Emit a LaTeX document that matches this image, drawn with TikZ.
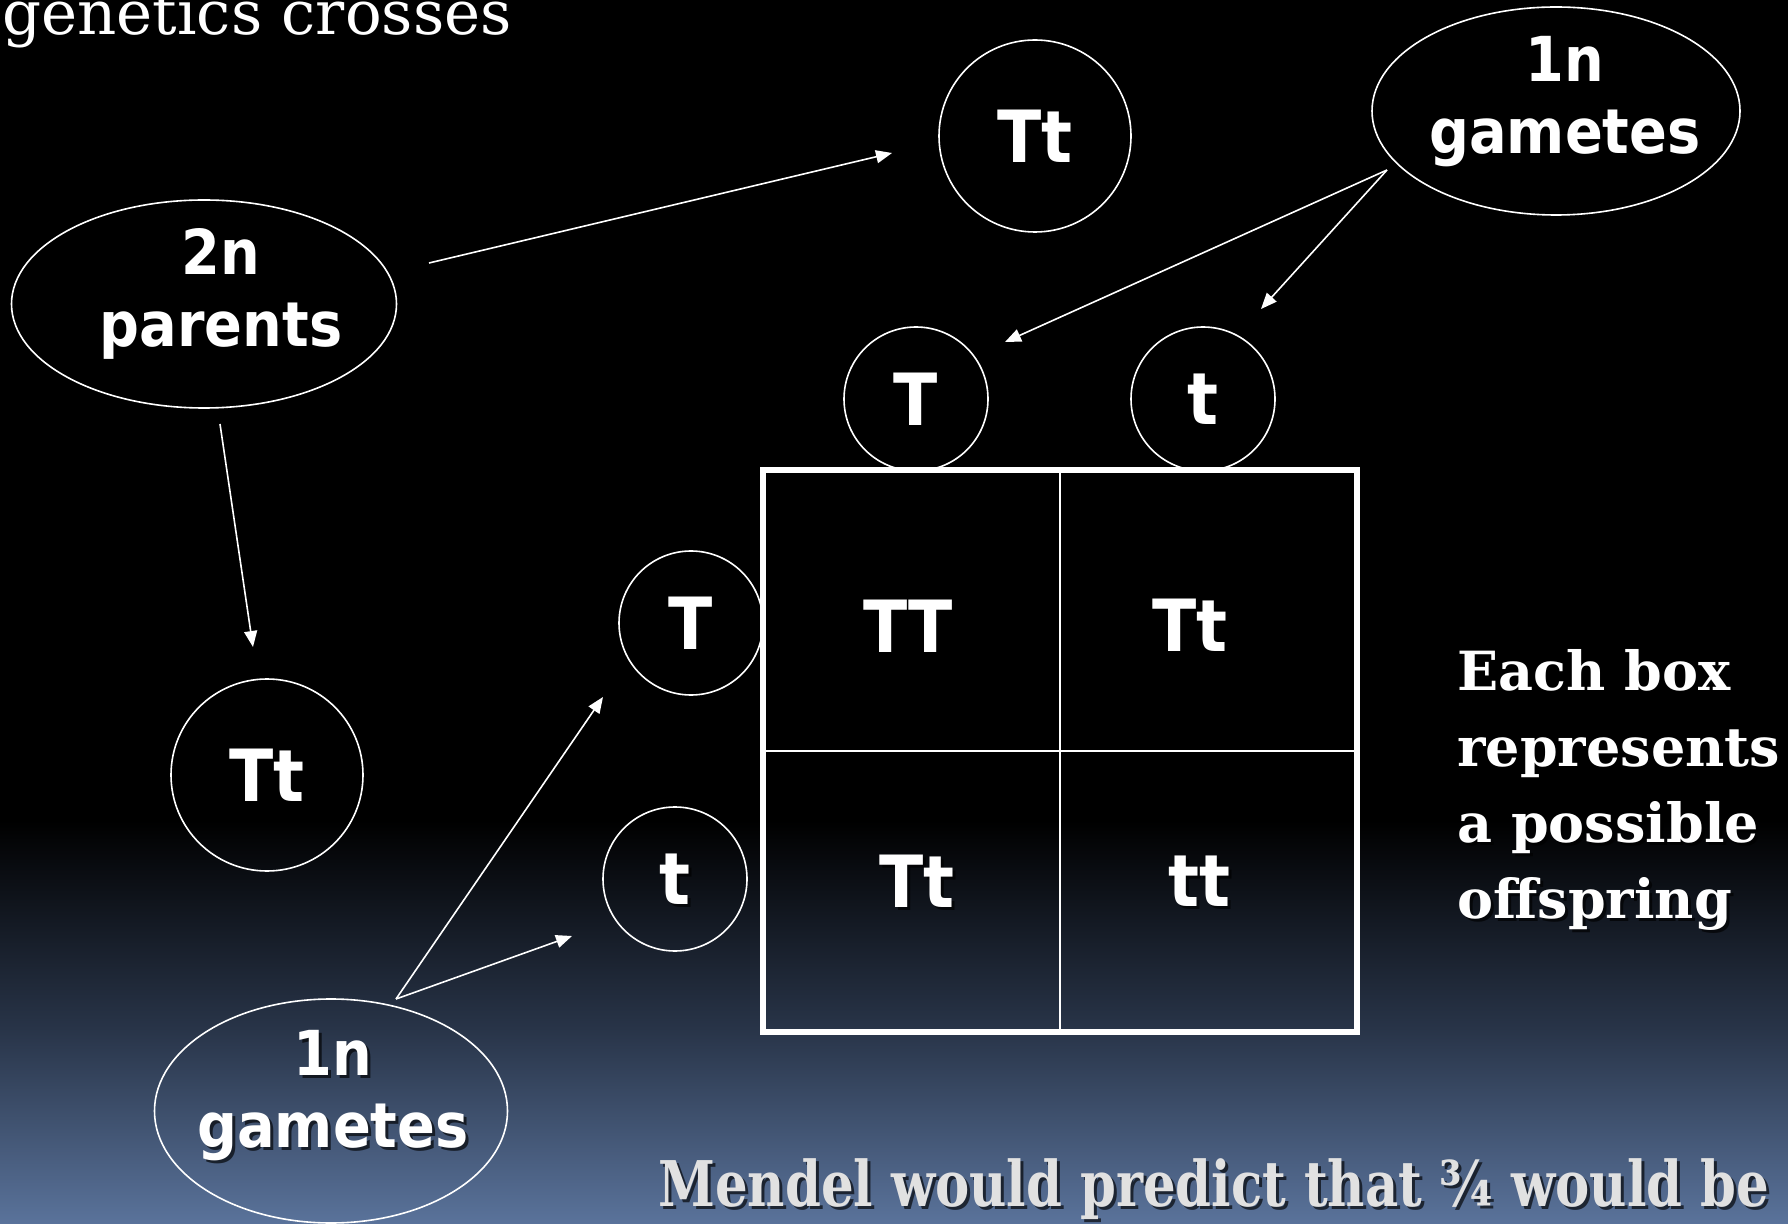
\documentclass[tikz,border=0pt]{standalone}
\usepackage{fontspec}
\usetikzlibrary{shapes.geometric,arrows.meta}
\newfontfamily\nodefont[FakeStretch=0.9]{DejaVu Sans}
\newfontfamily\seriffont{DejaVu Serif}
\newfontfamily\condserif[FakeStretch=0.815]{DejaVu Serif}
\definecolor{bgbot}{RGB}{90,115,155}
\definecolor{bgmid}{RGB}{40,52,72}
\definecolor{mendelgray}{RGB}{225,225,225}
\pgfdeclareverticalshading{slidebg}{100bp}{color(0bp)=(bgbot); color(25bp)=(bgbot); color(33bp)=(bgmid); color(41.5bp)=(black); color(100bp)=(black)}
\tikzset{
  circ/.style={circle, draw=white, line width=0.8pt, inner sep=0pt, text=white,
    font={\nodefont\bfseries\fontsize{36}{43}\selectfont}},
  bigcirc/.style={circ, minimum size=96pt},
  smallcirc/.style={circ, minimum size=72pt},
  ovalshape/.style={ellipse, draw=white, line width=0.8pt, inner sep=0pt},
  ovaltext/.style={text=white, inner sep=0pt, align=center,
    font={\nodefont\bfseries\fontsize{31}{36}\selectfont}},
  celltext/.style={text=white, inner sep=0pt,
    font={\nodefont\bfseries\fontsize{36}{43}\selectfont}},
  arrowline/.style={draw=white, line width=0.8pt, -{Triangle[length=8pt,width=6.5pt]}},
  shadowcopy/.style={text=black, draw=none, opacity=0.65},
}
\newcommand\shadowed[4]{%
  \node[#1, shadowcopy] at ([shift={(1.5pt,-1.5pt)}]#3) {#4};
  \node[#1] (#2) at (#3) {#4};
}
\begin{document}
\begin{tikzpicture}[x=0.5pt,y=-0.5pt]
\useasboundingbox (0,0) rectangle (1788,1224);
\clip (0,0) rectangle (1788,1224);
\shade[shading=slidebg] (0,0) rectangle (1788,1224);

% title fragment
\node[anchor=base west, inner sep=0pt, text=white, font={\seriffont\fontsize{30.5}{36}\selectfont}] (title) at (2,35) {genetics crosses};

% ellipses
\node[ovalshape, minimum width=192.5pt, minimum height=104pt] (parents) at (204,304) {};
\node[ovaltext, anchor=base] (parentstxt) at (221,347) {2n\\parents};

\node[ovalshape, minimum width=184pt, minimum height=104pt] (gamtop) at (1556,111) {};
\node[ovaltext, anchor=base] (gamtoptxt) at (1565,154) {1n\\gametes};

\node[ovalshape, minimum width=176.5pt, minimum height=112pt] (gambot) at (331,1111) {};
\shadowed{ovaltext, anchor=base}{gambottxt}{333,1147}{1n\\gametes}

% circles
\node[bigcirc] (tttop) at (1035,136) {Tt};
\shadowed{bigcirc}{ttleft}{267,775}{Tt}
\node[smallcirc] (Ttop) at (916,399) {T};
\node[smallcirc] (ttop) at (1203,399) {t};
\node[smallcirc] (Tleft) at (691,623) {T};
\shadowed{smallcirc}{tleft}{675,879}{t}

% Punnett square
\draw[white, line width=0.9pt] (1060,470) -- (1060,1032);
\draw[white, line width=0.9pt] (763,751) -- (1357,751);
\draw[white, line width=2.6pt] (763,470) rectangle (1357,1032);
\node[celltext] (c11) at (908,626) {TT};
\node[celltext] (c12) at (1190,625) {Tt};
\shadowed{celltext}{c21}{917,881}{Tt}
\shadowed{celltext}{c22}{1199,881}{tt}

% arrow end points
\coordinate (a1s) at (429,263);  \coordinate (a1e) at (892,153);
\coordinate (a2s) at (220,424);  \coordinate (a2e) at (253,647);
\coordinate (a3s) at (1387,170); \coordinate (a3e) at (1005,342);
\coordinate (a4e) at (1261,309);
\coordinate (a5s) at (396,999);  \coordinate (a5e) at (603,697);
\coordinate (a6e) at (572,936);
\draw[arrowline] (a1s) -- (a1e);
\draw[arrowline] (a2s) -- (a2e);
\draw[arrowline] (a3s) -- (a3e);
\draw[arrowline] (a3s) -- (a4e);
\draw[arrowline] (a5s) -- (a5e);
\draw[arrowline] (a5s) -- (a6e);

% side note
\shadowed{anchor=base west, inner sep=0pt, text=white, align=left, font={\seriffont\bfseries\fontsize{27}{38}\selectfont}}{note}{1457,918}{Each box\\represents\\a possible\\offspring}

% bottom statement
\shadowed{anchor=base west, inner sep=0pt, text=mendelgray, font={\condserif\bfseries\fontsize{31.5}{38}\selectfont}}{mendel}{658,1206}{Mendel would predict that ¾ would be}
\end{tikzpicture}
\end{document}
